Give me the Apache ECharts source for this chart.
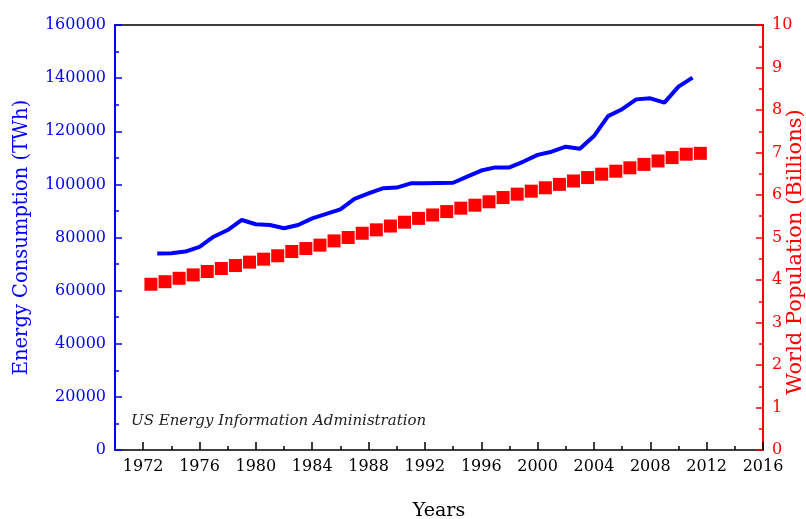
<!DOCTYPE html>
<html>
<head>
<meta charset="utf-8">
<script src="https://cdn.jsdelivr.net/npm/echarts@6/dist/echarts.min.js"></script>
<style>
html,body{margin:0;padding:0;background:#fff;}
#chart{width:806px;height:519px;}
</style>
</head>
<body>
<div id="chart"></div>
<script>
// ---- data ----
const energyYears = [1973,1974,1975,1976,1977,1978,1979,1980,1981,1982,1983,1984,1985,1986,1987,1988,1989,1990,1991,1992,1993,1994,1995,1996,1997,1998,1999,2000,2001,2002,2003,2004,2005,2006,2007,2008,2009,2010,2011];
const energyTWh = [74000,74100,74700,76500,80300,82800,86600,85000,84700,83500,84700,87200,88900,90600,94500,96600,98500,98800,100400,100400,100500,100600,102900,105200,106400,106400,108600,111100,112300,114200,113400,118200,125700,128300,132000,132400,130800,136800,140200];
const popYears = [1972,1973,1974,1975,1976,1977,1978,1979,1980,1981,1982,1983,1984,1985,1986,1987,1988,1989,1990,1991,1992,1993,1994,1995,1996,1997,1998,1999,2000,2001,2002,2003,2004,2005,2006,2007,2008,2009,2010,2011];
const popBillions = [3.90,3.96,4.04,4.12,4.20,4.27,4.34,4.42,4.49,4.57,4.67,4.74,4.82,4.92,5.00,5.10,5.18,5.27,5.36,5.45,5.53,5.61,5.69,5.76,5.84,5.94,6.02,6.09,6.17,6.25,6.33,6.41,6.49,6.56,6.64,6.72,6.80,6.88,6.96,6.98];
const midYear = 0.55; // population samples are mid-year
const xMajorTicks = [1972,1976,1980,1984,1988,1992,1996,2000,2004,2008,2012,2016];
const xMinorTicks = [1974,1978,1982,1986,1990,1994,1998,2002,2006,2010,2014];
const sourceNote = 'US Energy Information Administration';
const rightTitle = 'World Population (Billions)';

const FONT = 'DejaVu Serif';
const BLUE = '#0000ff';
const RED = '#ff0000';
const plain = v => String(v);

const chart = echarts.init(document.getElementById('chart'), null, {renderer: 'canvas'});
chart.setOption({
  backgroundColor: '#fff',
  animation: false,
  grid: {left: 115, right: 43, top: 25, bottom: 69, containLabel: false, outerBoundsMode: 'none'},
  xAxis: [
    {
      type: 'value', min: 1970, max: 2016, position: 'bottom',
      name: 'Years', nameLocation: 'middle', nameGap: 52,
      nameTextStyle: {fontFamily: FONT, fontSize: 19, color: '#000'},
      axisLine: {show: true, lineStyle: {color: '#000', width: 1.5}},
      axisTick: {show: true, inside: true, length: 8, customValues: xMajorTicks, lineStyle: {color: '#000', width: 1.5}},
      axisLabel: {customValues: xMajorTicks, formatter: plain, fontFamily: FONT, fontSize: 16, color: '#000', margin: 9, hideOverlap: false},
      splitLine: {show: false}
    },
    {
      type: 'value', min: 1970, max: 2016, position: 'bottom',
      axisLine: {show: false},
      axisTick: {show: true, inside: true, length: 4, customValues: xMinorTicks, lineStyle: {color: '#000', width: 1.5}},
      axisLabel: {show: false},
      splitLine: {show: false}
    },
    {
      type: 'value', min: 1970, max: 2016, position: 'top',
      axisLine: {show: true, lineStyle: {color: '#000', width: 1.5}},
      axisTick: {show: false},
      axisLabel: {show: false},
      splitLine: {show: false}
    }
  ],
  yAxis: [
    {
      type: 'value', min: 0, max: 160000, interval: 20000, position: 'left',
      name: 'Energy Consumption (TWh)', nameLocation: 'middle', nameGap: 83,
      nameTextStyle: {fontFamily: FONT, fontSize: 19.5, color: BLUE},
      axisLine: {show: true, lineStyle: {color: BLUE, width: 2}},
      axisTick: {show: true, inside: true, length: 7, lineStyle: {color: BLUE, width: 1.5}},
      minorTick: {show: true, splitNumber: 2, length: 4, lineStyle: {color: BLUE, width: 1.5}},
      axisLabel: {formatter: plain, fontFamily: FONT, fontSize: 16, color: BLUE, margin: 9},
      splitLine: {show: false}, minorSplitLine: {show: false}
    },
    {
      type: 'value', min: 0, max: 10, interval: 1, position: 'right',
      axisLine: {show: true, lineStyle: {color: RED, width: 2}},
      axisTick: {show: true, inside: true, length: 7, lineStyle: {color: RED, width: 1.5}},
      minorTick: {show: true, splitNumber: 2, length: 4, lineStyle: {color: RED, width: 1.5}},
      axisLabel: {formatter: plain, fontFamily: FONT, fontSize: 16, color: RED, margin: 9},
      splitLine: {show: false}, minorSplitLine: {show: false}
    }
  ],
  graphic: [
    {
      type: 'text', left: 131, top: 414,
      style: {text: sourceNote, fontFamily: FONT, fontStyle: 'italic', fontSize: 15, fill: '#222'}
    },
    {
      type: 'text', x: 796, y: 252, rotation: Math.PI / 2,
      style: {text: rightTitle, fontFamily: FONT, fontSize: 21, fill: RED, align: 'center', verticalAlign: 'middle'}
    }
  ],
  series: [
    {
      name: 'Energy', type: 'line', xAxisIndex: 0, yAxisIndex: 0,
      data: energyYears.map((y, i) => [y, energyTWh[i]]),
      showSymbol: false, symbol: 'none',
      lineStyle: {color: BLUE, width: 4}, z: 3
    },
    {
      name: 'Population', type: 'scatter', xAxisIndex: 0, yAxisIndex: 1,
      data: popYears.map((y, i) => [y + midYear, popBillions[i]]),
      symbol: 'rect', symbolSize: 13,
      itemStyle: {color: RED, opacity: 1}, z: 2
    }
  ]
});
</script>
</body>
</html>
